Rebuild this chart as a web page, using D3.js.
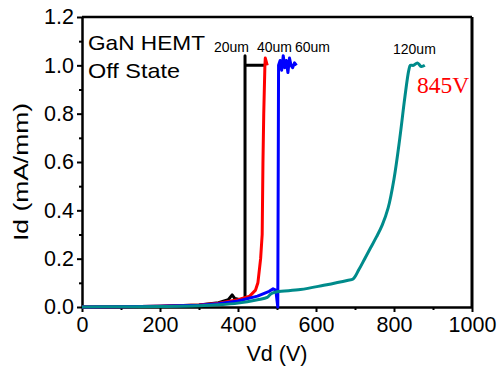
<!DOCTYPE html>
<html>
<head>
<meta charset="utf-8">
<script src="https://cdn.jsdelivr.net/npm/d3@7"></script>
<style>
  body { margin: 0; background: #fff; }
  svg { display: block; font-family: "Liberation Sans", Arial, sans-serif; }
</style>
</head>
<body>
<div id="chart"></div>
<script>
// Off-state breakdown curves
const xTicks = [0, 200, 400, 600, 800, 1000];
const yTicks = [0.0, 0.2, 0.4, 0.6, 0.8, 1.0, 1.2];

const v20 = [0, 100, 200, 300, 350, 375, 385, 392, 405, 418, 418, 418, 440, 470];
const i20 = [0, 0.001, 0.003, 0.008, 0.018, 0.03, 0.05, 0.035, 0.03, 0.035, 1.04, 1.0, 1.0, 1.0];

const v40 = [0, 100, 200, 300, 350, 400, 430, 445, 451, 458, 462, 464, 466, 469, 470, 475];
const i40 = [0, 0.001, 0.003, 0.008, 0.016, 0.03, 0.045, 0.07, 0.1, 0.2, 0.3, 0.6, 0.8, 1.0, 1.03, 1.0];

const v60 = [0, 100, 200, 300, 350, 400, 450, 480, 490, 497, 502, 503, 504, 508, 512, 516, 520, 524, 528, 532, 536, 540, 545, 550];
const i60 = [0, 0.001, 0.003, 0.007, 0.013, 0.025, 0.045, 0.065, 0.075, 0.07, 0.0, 0.5, 1.0, 1.02, 0.98, 1.04, 0.99, 1.02, 0.97, 1.03, 1.0, 0.99, 1.01, 1.0];

const v120 = [0, 100, 200, 300, 350, 400, 450, 475, 485, 500, 560, 620, 680, 695, 710, 725, 740, 755, 770, 785, 800, 815, 828, 838, 842, 850, 860, 870, 879];
const i120 = [0, 0.001, 0.002, 0.005, 0.009, 0.016, 0.03, 0.04, 0.055, 0.063, 0.072, 0.09, 0.11, 0.116, 0.155, 0.2, 0.245, 0.29, 0.34, 0.41, 0.53, 0.7, 0.87, 0.98, 1.0, 1.0, 1.01, 0.995, 1.0];

const series = [
  { name: "20um", v: v20, i: i20, color: "#000000" },
  { name: "40um", v: v40, i: i40, color: "#ff0000" },
  { name: "60um", v: v60, i: i60, color: "#0000ff" },
  { name: "120um", v: v120, i: i120, color: "#008b8b" }
];

const width = 500, height = 369;
const margin = { top: 17, right: 28, bottom: 62, left: 82 };

const svg = d3.select("#chart").append("svg")
  .attr("width", width)
  .attr("height", height);

const x = d3.scaleLinear().domain([0, 1000]).range([margin.left, width - margin.right]);
const y = d3.scaleLinear().domain([0, 1.2]).range([height - margin.bottom, margin.top]);

// minor ticks
svg.append("g")
  .attr("transform", `translate(0,${y(0)})`)
  .call(d3.axisBottom(x).tickValues(d3.range(100, 1000, 200)).tickSize(3).tickFormat(""))
  .call(g => g.select(".domain").remove())
  .selectAll("line").attr("stroke-width", 2);
svg.append("g")
  .attr("transform", `translate(${x(0)},0)`)
  .call(d3.axisLeft(y).tickValues(d3.range(0.1, 1.2, 0.2)).tickSize(3).tickFormat(""))
  .call(g => g.select(".domain").remove())
  .selectAll("line").attr("stroke-width", 2);

// major axes
const xAxis = svg.append("g")
  .attr("transform", `translate(0,${y(0)})`)
  .call(d3.axisBottom(x).tickValues(xTicks).tickFormat(d3.format("d")).tickSize(5).tickSizeOuter(0).tickPadding(5));
const yAxis = svg.append("g")
  .attr("transform", `translate(${x(0)},0)`)
  .call(d3.axisLeft(y).tickValues(yTicks).tickFormat(d3.format(".1f")).tickSize(5).tickSizeOuter(0).tickPadding(3));

[xAxis, yAxis].forEach(g => {
  g.attr("font-family", "'Liberation Sans', Arial, sans-serif");
  g.select(".domain").attr("stroke-width", 2.5);
  g.selectAll(".tick line").attr("stroke-width", 2);
  g.selectAll("text").attr("font-size", 21.5).attr("fill", "#000");
});

// top and right frame
svg.append("line")
  .attr("x1", x(0)).attr("x2", x(1000)).attr("y1", y(1.2)).attr("y2", y(1.2))
  .attr("stroke", "#000").attr("stroke-width", 2.5);
svg.append("line")
  .attr("x1", x(1000)).attr("x2", x(1000)).attr("y1", y(1.2)).attr("y2", y(0))
  .attr("stroke", "#000").attr("stroke-width", 3);

// curves
const line = d3.line()
  .x(d => x(d[0]))
  .y(d => y(d[1]));
const smooth = d3.line()
  .x(d => x(d[0]))
  .y(d => y(d[1]))
  .curve(d3.curveCatmullRom.alpha(0.5));

svg.append("g").selectAll("path")
  .data(series)
  .enter().append("path")
  .attr("d", s => (s.name === "120um" ? smooth : line)(s.v.map((v, k) => [v, s.i[k]])))
  .attr("fill", "none")
  .attr("stroke", s => s.color)
  .attr("stroke-width", 3)
  .attr("stroke-linejoin", "round");

// labels
svg.append("text").attr("x", x(0) + 6).attr("y", 50)
  .attr("font-size", 21).attr("textLength", 117).attr("lengthAdjust", "spacingAndGlyphs")
  .text("GaN HEMT");
svg.append("text").attr("x", x(0) + 6).attr("y", 78)
  .attr("font-size", 21).attr("textLength", 92).attr("lengthAdjust", "spacingAndGlyphs")
  .text("Off State");

const sizeLabels = [
  { t: "20um", x: 214, y: 52 },
  { t: "40um", x: 257, y: 52 },
  { t: "60um", x: 295, y: 52 },
  { t: "120um", x: 393, y: 54 }
];
svg.selectAll(".size").data(sizeLabels).enter().append("text")
  .attr("x", d => d.x).attr("y", d => d.y)
  .attr("font-size", 14).text(d => d.t);

svg.append("text").attr("x", 417).attr("y", 93)
  .attr("font-family", "'Liberation Serif', 'Times New Roman', serif")
  .attr("font-size", 23.5).attr("fill", "#ff0000").text("845V");

svg.append("text")
  .attr("x", (x(0) + x(1000)) / 2).attr("y", 361)
  .attr("text-anchor", "middle").attr("font-size", 21.5).text("Vd (V)");
svg.append("text")
  .attr("transform", `translate(28,${(y(0) + y(1.2)) / 2 + 10}) rotate(-90)`)
  .attr("text-anchor", "middle").attr("font-size", 20)
  .attr("textLength", 138).attr("lengthAdjust", "spacingAndGlyphs")
  .text("Id (mA/mm)");
</script>
</body>
</html>
